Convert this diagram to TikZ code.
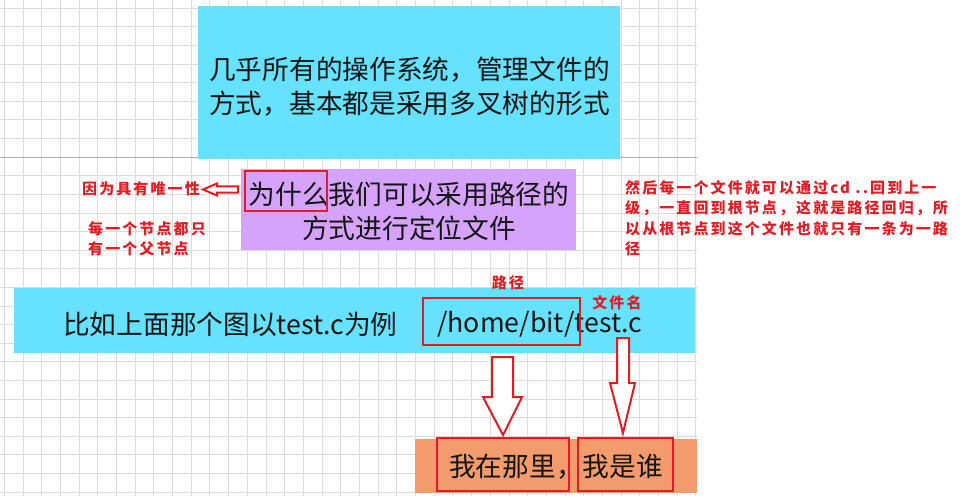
\documentclass[tikz,border=0pt]{standalone}
\usepackage{fontspec}
\newfontfamily\cjk{Noto Sans CJK SC}
\newfontfamily\cjkred[LetterSpace=14]{Noto Sans CJK SC}
\definecolor{gridc}{RGB}{220,220,220}
\definecolor{griddark}{RGB}{170,170,170}
\definecolor{cyanbg}{RGB}{102,226,255}
\definecolor{purplebg}{RGB}{214,163,252}
\definecolor{orangebg}{RGB}{243,155,108}
\definecolor{redline}{RGB}{226,28,36}
\definecolor{textc}{RGB}{20,20,20}
\tikzset{
  gridline/.style={gridc, line width=0.8pt},
  box/.style={anchor=north west, inner sep=0pt, outer sep=0pt, draw=none},
  redbox/.style={draw=redline, line width=2.2pt, inner sep=0pt, fill=none},
  bigtext/.style={inner sep=0pt, text=textc, font=\cjk\fontsize{26.7}{34}\selectfont},
  redtext/.style={inner sep=0pt, text=redline, font=\cjkred\bfseries\fontsize{15}{20.5}\selectfont},
  hollow/.style={draw=redline, line width=2pt, fill=white, line join=miter},
}
\begin{document}
\begin{tikzpicture}[x=1pt,y=-1pt]
\useasboundingbox (0,0) rectangle (964,500);
% grid
\foreach \i in {0,...,37} \draw[gridline] ({4.3+18.69*\i},0) -- ({4.3+18.69*\i},496);
\foreach \j in {0,...,26} \draw[gridline] (0,{8.3+18.6*\j}) -- (697,{8.3+18.6*\j});
\draw[griddark, line width=0.8pt] (0,157.1) -- (697,157.1);
% boxes
\node[box, fill=cyanbg, minimum width=422pt, minimum height=153pt] (topbox) at (198,6) {};
\node[box, fill=purplebg, minimum width=335pt, minimum height=81pt] (whybox) at (241,169) {};
\node[box, fill=cyanbg, minimum width=681pt, minimum height=65pt] (exbox) at (14,288) {};
\node[box, fill=orangebg, minimum width=282pt, minimum height=54pt] (ansbox) at (415,439) {};
% big texts
\node[bigtext, anchor=west, align=left] (toptext) at (209,87) {几乎所有的操作系统，管理文件的\\方式，基本都是采用多叉树的形式};
\node[bigtext, align=center] (whytext) at (409,211) {为什么我们可以采用路径的\\方式进行定位文件};
\node[bigtext, anchor=west] (extext) at (63,324) {比如上面那个图以test.c为例};
\node[bigtext, anchor=west] (pathtext) at (437,324) {/home/bit/test.c};
\node[bigtext, anchor=west] (anstext) at (449,467) {我在那里，我是谁};
% red frames
\node[redbox, minimum width=82pt, minimum height=40pt] (whyframe) at (286,191) {};
\node[redbox, minimum width=157pt, minimum height=47pt] (pathframe) at (501.5,321.5) {};
\node[redbox, minimum width=132pt, minimum height=53pt] (whereframe) at (503,464.5) {};
\node[redbox, minimum width=95pt, minimum height=53pt] (whoframe) at (625.5,464.5) {};
% red notes
\node[redtext, anchor=west] (unique) at (82,189) {因为具有唯一性};
\node[redtext, anchor=north west, align=left] (parent) at (88,221) {每一个节点都只\\有一个父节点};
\node[redtext, anchor=north west, align=left] (note) at (625,180) {然后每一个文件就可以通过cd ..回到上一\\级，一直回到根节点，这就是路径回归，所\\以从根节点到这个文件也就只有一条为一路\\径};
\node[redtext] (pathlabel) at (508,283) {路径};
\node[redtext] (namelabel) at (617,303) {文件名};
% hollow arrows
\draw[hollow] (238,186.3) -- (217,186.3) -- (217,183.5) -- (203,189.5) -- (217,195.5) -- (217,192.7) -- (238,192.7) -- cycle;
\draw[hollow] (492,357) -- (513,357) -- (513,397) -- (522,397) -- (503,435) -- (483,397) -- (492,397) -- cycle;
\draw[hollow] (617,338) -- (629,338) -- (629,383) -- (635,383) -- (623,433) -- (610,383) -- (617,383) -- cycle;
\end{tikzpicture}
\end{document}
